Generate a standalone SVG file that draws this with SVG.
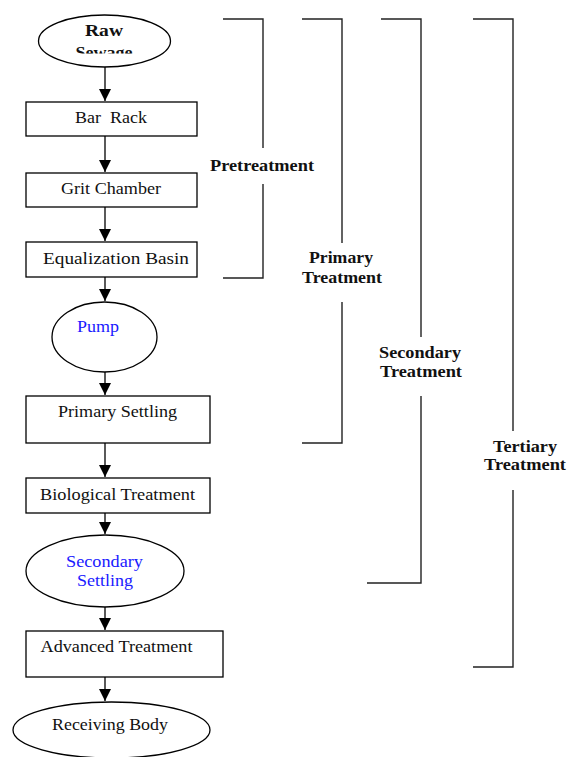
<svg xmlns="http://www.w3.org/2000/svg" width="567" height="757" viewBox="0 0 567 757">
<defs>
<marker id="ah" markerUnits="userSpaceOnUse" markerWidth="14" markerHeight="12" refX="12" refY="6" orient="auto">
<path d="M0,0 L12,6 L0,12 z" fill="#000"/>
</marker>
<clipPath id="rawclip"><rect x="0" y="0" width="567" height="53.5"/></clipPath>
</defs>
<style>
.box{fill:#fff;stroke:#000;stroke-width:1.3}
.t{font-family:"Liberation Serif","Times New Roman",serif;font-size:17.5px;fill:#111;text-anchor:middle}
.b{font-weight:bold;font-size:16.5px}
.blue{fill:#1a1aff}
.br{fill:none;stroke:#222;stroke-width:1.4}
.con{stroke:#000;stroke-width:1.3;fill:none;marker-end:url(#ah)}
</style>
<rect width="567" height="757" fill="#fff"/>
<g id="connectors">
<line class="con" x1="105" y1="67" x2="105" y2="101"/>
<line class="con" x1="105" y1="136" x2="105" y2="172"/>
<line class="con" x1="105" y1="207" x2="105" y2="241"/>
<line class="con" x1="105" y1="277" x2="105" y2="301"/>
<line class="con" x1="105" y1="372" x2="105" y2="395"/>
<line class="con" x1="105" y1="443" x2="105" y2="477"/>
<line class="con" x1="105" y1="513" x2="105" y2="534"/>
<line class="con" x1="105" y1="607" x2="105" y2="630"/>
<line class="con" x1="105" y1="677" x2="105" y2="701"/>
</g>
<g id="raw-sewage">
<ellipse class="box" cx="104.5" cy="41" rx="66" ry="26"/>
<text class="t b" x="104" y="36" textLength="38" lengthAdjust="spacingAndGlyphs">Raw</text>
<text class="t b" x="104" y="58" textLength="57" lengthAdjust="spacingAndGlyphs" clip-path="url(#rawclip)">Sewage</text>
</g>
<g id="bar-rack">
<rect class="box" x="26" y="102" width="171" height="34"/>
<text class="t" x="111" y="123" textLength="72" lengthAdjust="spacingAndGlyphs" xml:space="preserve">Bar  Rack</text>
</g>
<g id="grit-chamber">
<rect class="box" x="26" y="173" width="171" height="34"/>
<text class="t" x="111" y="194" textLength="100" lengthAdjust="spacingAndGlyphs">Grit Chamber</text>
</g>
<g id="equalization-basin">
<rect class="box" x="26" y="242" width="171" height="35"/>
<text class="t" x="116" y="264" textLength="146" lengthAdjust="spacingAndGlyphs">Equalization Basin</text>
</g>
<g id="pump">
<ellipse class="box" cx="104.5" cy="337" rx="52.5" ry="35"/>
<text class="t blue" x="98" y="332" textLength="42" lengthAdjust="spacingAndGlyphs">Pump</text>
</g>
<g id="primary-settling">
<rect class="box" x="26" y="396" width="184" height="47"/>
<text class="t" x="117.5" y="417" textLength="119" lengthAdjust="spacingAndGlyphs">Primary Settling</text>
</g>
<g id="biological-treatment">
<rect class="box" x="26" y="478" width="184" height="35"/>
<text class="t" x="117.5" y="500" textLength="155" lengthAdjust="spacingAndGlyphs">Biological Treatment</text>
</g>
<g id="secondary-settling">
<ellipse class="box" cx="105" cy="571" rx="79" ry="36"/>
<text class="t blue" x="104.5" y="567" textLength="77" lengthAdjust="spacingAndGlyphs">Secondary</text>
<text class="t blue" x="105" y="586" textLength="56" lengthAdjust="spacingAndGlyphs">Settling</text>
</g>
<g id="advanced-treatment">
<rect class="box" x="26" y="631" width="197" height="46"/>
<text class="t" x="116.5" y="652" textLength="152" lengthAdjust="spacingAndGlyphs">Advanced Treatment</text>
</g>
<g id="receiving-body">
<ellipse class="box" cx="111.5" cy="730" rx="98.5" ry="28"/>
<text class="t" x="110" y="730" textLength="116" lengthAdjust="spacingAndGlyphs">Receiving Body</text>
</g>
<g id="pretreatment">
<path class="br" d="M223,19 H263 V148 M263,184 V278 H223"/>
<text class="t b" x="262" y="170.5" textLength="104" lengthAdjust="spacingAndGlyphs">Pretreatment</text>
</g>
<g id="primary-treatment">
<path class="br" d="M302,19 H342 V243 M342,302 V443 H302"/>
<text class="t b" x="341" y="263" textLength="64" lengthAdjust="spacingAndGlyphs">Primary</text>
<text class="t b" x="342" y="283" textLength="80" lengthAdjust="spacingAndGlyphs">Treatment</text>
</g>
<g id="secondary-treatment">
<path class="br" d="M381,19 H421 V337 M421,396 V583 H367"/>
<text class="t b" x="420" y="358" textLength="82" lengthAdjust="spacingAndGlyphs">Secondary</text>
<text class="t b" x="421" y="377" textLength="82" lengthAdjust="spacingAndGlyphs">Treatment</text>
</g>
<g id="tertiary-treatment">
<path class="br" d="M473,19 H513 V431 M513,490 V667 H473"/>
<text class="t b" x="525" y="452" textLength="64" lengthAdjust="spacingAndGlyphs">Tertiary</text>
<text class="t b" x="525" y="470" textLength="82" lengthAdjust="spacingAndGlyphs">Treatment</text>
</g>
</svg>
